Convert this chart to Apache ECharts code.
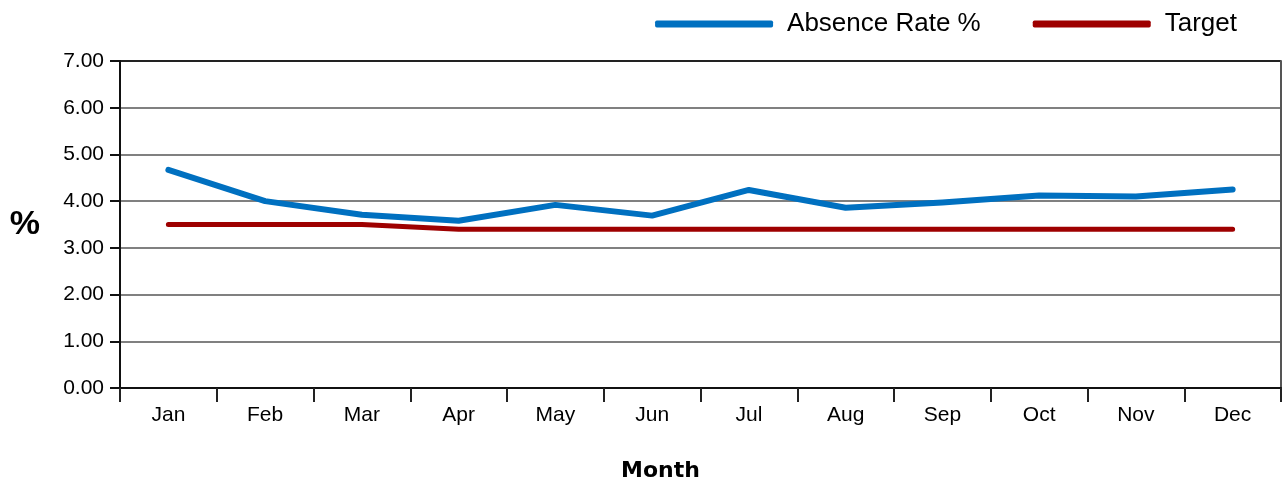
<!DOCTYPE html>
<html>
<head>
<meta charset="utf-8">
<script src="https://cdn.jsdelivr.net/npm/echarts@6/dist/echarts.min.js"></script>
<style>html,body{margin:0;padding:0;background:#fff;}#c{width:1282px;height:481px;}</style>
</head>
<body>
<div id="c"></div>
<script>
const months = ['Jan','Feb','Mar','Apr','May','Jun','Jul','Aug','Sep','Oct','Nov','Dec'];
const absenceRate = [4.67, 4.00, 3.71, 3.58, 3.92, 3.69, 4.24, 3.86, 3.97, 4.12, 4.10, 4.25];
const target = [3.5, 3.5, 3.5, 3.4, 3.4, 3.4, 3.4, 3.4, 3.4, 3.4, 3.4, 3.4];
const yTicks = { min: 0, max: 7, interval: 1 };

const chart = echarts.init(document.getElementById('c'), null, {renderer: 'canvas'});
const font = 'Liberation Sans, Arial, sans-serif';
chart.setOption({
  animation: false,
  backgroundColor: '#fff',
  legend: {
    right: 40, top: 6,
    itemWidth: 118, itemHeight: 7, itemGap: 52,
    icon: 'roundRect',
    textStyle: { fontFamily: font, fontSize: 26, color: '#000', padding: [0,0,0,9] },
    data: ['Absence Rate %', 'Target']
  },
  grid: { left: 120, right: 1, top: 61, bottom: 93, containLabel: false, outerBoundsMode: 'none' },
  xAxis: {
    type: 'category', data: months, boundaryGap: true,
    name: 'Month', nameLocation: 'middle', nameGap: 72,
    nameTextStyle: { fontFamily: 'DejaVu Sans, sans-serif', fontWeight: 'bold', fontSize: 22, color: '#000', padding: [0, 80, 0, 0] },
    axisLine: { lineStyle: { color: '#111', width: 2 } },
    axisTick: { show: true, length: 14, lineStyle: { color: '#222', width: 2 } },
    axisLabel: { fontFamily: font, fontSize: 21, color: '#000', margin: 17 }
  },
  yAxis: [{
    type: 'value', min: yTicks.min, max: yTicks.max, interval: yTicks.interval,
    name: '%', nameLocation: 'middle', nameRotate: 0, nameGap: 80,
    nameTextStyle: { fontFamily: font, fontWeight: 'bold', fontSize: 34, color: '#000' },
    axisLine: { show: true, lineStyle: { color: '#111', width: 2 } },
    axisTick: { show: true, length: 10, lineStyle: { color: '#111', width: 2 } },
    axisLabel: { fontFamily: font, fontSize: 21, color: '#000', margin: 16, formatter: v => v.toFixed(2) },
    splitLine: { show: true, lineStyle: { color: ['#111','#808080','#808080','#808080','#808080','#808080','#808080','#222'], width: 2 } }
  }, {
    type: 'value', position: 'right', min: yTicks.min, max: yTicks.max, interval: yTicks.interval,
    axisLine: { show: true, lineStyle: { color: '#555', width: 2 } },
    axisTick: { show: false }, axisLabel: { show: false }, splitLine: { show: false }
  }],
  series: [{
    name: 'Absence Rate %', type: 'line', data: absenceRate,
    showSymbol: false, symbol: 'none', color: '#0070C0',
    lineStyle: { width: 6, color: '#0070C0', cap: 'round', join: 'round' }
  }, {
    name: 'Target', type: 'line', data: target,
    showSymbol: false, symbol: 'none', color: '#9E0000',
    lineStyle: { width: 5, color: '#9E0000', cap: 'round', join: 'round' }
  }]
});
</script>
</body>
</html>
